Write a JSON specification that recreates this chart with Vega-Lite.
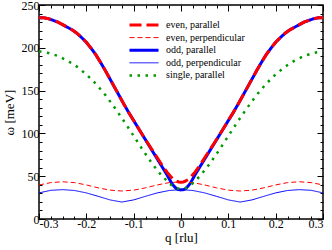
{
  "$schema": "https://vega.github.io/schema/vega-lite/v6.json",
  "width": 284,
  "height": 214,
  "autosize": {"type": "none"},
  "padding": {"left": 39, "top": 5, "right": 9, "bottom": 31},
  "config": {
    "view": {"stroke": "black", "strokeWidth": 1.5},
    "font": "Liberation Serif",
    "axis": {
      "domain": false,
      "grid": false,
      "labelFont": "Liberation Serif",
      "titleFont": "Liberation Serif",
      "labelFontSize": 12,
      "titleFontSize": 13,
      "titleFontWeight": "normal",
      "labelColor": "black",
      "titleColor": "black",
      "tickColor": "black",
      "tickWidth": 1
    },
    "legend": {"labelFont": "Liberation Serif"}
  },
  "data": {
    "values": [
      {"s": "odd, parallel", "q": -0.3, "w": 235},
      {"s": "odd, parallel", "q": -0.29, "w": 235},
      {"s": "odd, parallel", "q": -0.28, "w": 234},
      {"s": "odd, parallel", "q": -0.27, "w": 232},
      {"s": "odd, parallel", "q": -0.26, "w": 230},
      {"s": "odd, parallel", "q": -0.25, "w": 227},
      {"s": "odd, parallel", "q": -0.24, "w": 224},
      {"s": "odd, parallel", "q": -0.23, "w": 221},
      {"s": "odd, parallel", "q": -0.22, "w": 217},
      {"s": "odd, parallel", "q": -0.21, "w": 212},
      {"s": "odd, parallel", "q": -0.2, "w": 206.5},
      {"s": "odd, parallel", "q": -0.19, "w": 199.5},
      {"s": "odd, parallel", "q": -0.18, "w": 192},
      {"s": "odd, parallel", "q": -0.17, "w": 183},
      {"s": "odd, parallel", "q": -0.16, "w": 173.5},
      {"s": "odd, parallel", "q": -0.15, "w": 163.5},
      {"s": "odd, parallel", "q": -0.14, "w": 153.5},
      {"s": "odd, parallel", "q": -0.13, "w": 143.5},
      {"s": "odd, parallel", "q": -0.12, "w": 133.5},
      {"s": "odd, parallel", "q": -0.11, "w": 124},
      {"s": "odd, parallel", "q": -0.1, "w": 115},
      {"s": "odd, parallel", "q": -0.09, "w": 106},
      {"s": "odd, parallel", "q": -0.08, "w": 97},
      {"s": "odd, parallel", "q": -0.07, "w": 88},
      {"s": "odd, parallel", "q": -0.06, "w": 79},
      {"s": "odd, parallel", "q": -0.05, "w": 70},
      {"s": "odd, parallel", "q": -0.04, "w": 61},
      {"s": "odd, parallel", "q": -0.03, "w": 52},
      {"s": "odd, parallel", "q": -0.02, "w": 42},
      {"s": "odd, parallel", "q": -0.015, "w": 38.5},
      {"s": "odd, parallel", "q": -0.01, "w": 35.5},
      {"s": "odd, parallel", "q": -0.005, "w": 34.3},
      {"s": "odd, parallel", "q": 0, "w": 34},
      {"s": "odd, parallel", "q": 0.005, "w": 34.3},
      {"s": "odd, parallel", "q": 0.01, "w": 35.5},
      {"s": "odd, parallel", "q": 0.015, "w": 38.5},
      {"s": "odd, parallel", "q": 0.02, "w": 42},
      {"s": "odd, parallel", "q": 0.03, "w": 52},
      {"s": "odd, parallel", "q": 0.04, "w": 61},
      {"s": "odd, parallel", "q": 0.05, "w": 70},
      {"s": "odd, parallel", "q": 0.06, "w": 79},
      {"s": "odd, parallel", "q": 0.07, "w": 88},
      {"s": "odd, parallel", "q": 0.08, "w": 97},
      {"s": "odd, parallel", "q": 0.09, "w": 106},
      {"s": "odd, parallel", "q": 0.1, "w": 115},
      {"s": "odd, parallel", "q": 0.11, "w": 124},
      {"s": "odd, parallel", "q": 0.12, "w": 133.5},
      {"s": "odd, parallel", "q": 0.13, "w": 143.5},
      {"s": "odd, parallel", "q": 0.14, "w": 153.5},
      {"s": "odd, parallel", "q": 0.15, "w": 163.5},
      {"s": "odd, parallel", "q": 0.16, "w": 173.5},
      {"s": "odd, parallel", "q": 0.17, "w": 183},
      {"s": "odd, parallel", "q": 0.18, "w": 192},
      {"s": "odd, parallel", "q": 0.19, "w": 199.5},
      {"s": "odd, parallel", "q": 0.2, "w": 206.5},
      {"s": "odd, parallel", "q": 0.21, "w": 212},
      {"s": "odd, parallel", "q": 0.22, "w": 217},
      {"s": "odd, parallel", "q": 0.23, "w": 221},
      {"s": "odd, parallel", "q": 0.24, "w": 224},
      {"s": "odd, parallel", "q": 0.25, "w": 227},
      {"s": "odd, parallel", "q": 0.26, "w": 230},
      {"s": "odd, parallel", "q": 0.27, "w": 232},
      {"s": "odd, parallel", "q": 0.28, "w": 234},
      {"s": "odd, parallel", "q": 0.29, "w": 235},
      {"s": "odd, parallel", "q": 0.3, "w": 235},

      {"s": "odd, perpendicular", "q": -0.3, "w": 30.5},
      {"s": "odd, perpendicular", "q": -0.275, "w": 33.5},
      {"s": "odd, perpendicular", "q": -0.25, "w": 34.3},
      {"s": "odd, perpendicular", "q": -0.225, "w": 33.3},
      {"s": "odd, perpendicular", "q": -0.2, "w": 30.5},
      {"s": "odd, perpendicular", "q": -0.175, "w": 26.5},
      {"s": "odd, perpendicular", "q": -0.15, "w": 22.3},
      {"s": "odd, perpendicular", "q": -0.125, "w": 19.8},
      {"s": "odd, perpendicular", "q": -0.1, "w": 22.3},
      {"s": "odd, perpendicular", "q": -0.075, "w": 26.5},
      {"s": "odd, perpendicular", "q": -0.05, "w": 30.5},
      {"s": "odd, perpendicular", "q": -0.025, "w": 33.3},
      {"s": "odd, perpendicular", "q": 0, "w": 34.3},
      {"s": "odd, perpendicular", "q": 0.025, "w": 33.3},
      {"s": "odd, perpendicular", "q": 0.05, "w": 30.5},
      {"s": "odd, perpendicular", "q": 0.075, "w": 26.5},
      {"s": "odd, perpendicular", "q": 0.1, "w": 22.3},
      {"s": "odd, perpendicular", "q": 0.125, "w": 19.8},
      {"s": "odd, perpendicular", "q": 0.15, "w": 22.3},
      {"s": "odd, perpendicular", "q": 0.175, "w": 26.5},
      {"s": "odd, perpendicular", "q": 0.2, "w": 30.5},
      {"s": "odd, perpendicular", "q": 0.225, "w": 33.3},
      {"s": "odd, perpendicular", "q": 0.25, "w": 34.3},
      {"s": "odd, perpendicular", "q": 0.275, "w": 33.5},
      {"s": "odd, perpendicular", "q": 0.3, "w": 30.5},

      {"s": "even, perpendicular", "q": -0.3, "w": 39.8},
      {"s": "even, perpendicular", "q": -0.275, "w": 42.5},
      {"s": "even, perpendicular", "q": -0.25, "w": 43.5},
      {"s": "even, perpendicular", "q": -0.225, "w": 42.5},
      {"s": "even, perpendicular", "q": -0.2, "w": 39.8},
      {"s": "even, perpendicular", "q": -0.175, "w": 36.4},
      {"s": "even, perpendicular", "q": -0.15, "w": 33.7},
      {"s": "even, perpendicular", "q": -0.125, "w": 32.7},
      {"s": "even, perpendicular", "q": -0.1, "w": 33.7},
      {"s": "even, perpendicular", "q": -0.075, "w": 36.4},
      {"s": "even, perpendicular", "q": -0.05, "w": 39.8},
      {"s": "even, perpendicular", "q": -0.025, "w": 42.5},
      {"s": "even, perpendicular", "q": 0, "w": 43.5},
      {"s": "even, perpendicular", "q": 0.025, "w": 42.5},
      {"s": "even, perpendicular", "q": 0.05, "w": 39.8},
      {"s": "even, perpendicular", "q": 0.075, "w": 36.4},
      {"s": "even, perpendicular", "q": 0.1, "w": 33.7},
      {"s": "even, perpendicular", "q": 0.125, "w": 32.7},
      {"s": "even, perpendicular", "q": 0.15, "w": 33.7},
      {"s": "even, perpendicular", "q": 0.175, "w": 36.4},
      {"s": "even, perpendicular", "q": 0.2, "w": 39.8},
      {"s": "even, perpendicular", "q": 0.225, "w": 42.5},
      {"s": "even, perpendicular", "q": 0.25, "w": 43.5},
      {"s": "even, perpendicular", "q": 0.275, "w": 42.5},
      {"s": "even, perpendicular", "q": 0.3, "w": 39.8},

      {"s": "single, parallel", "q": -0.3, "w": 196},
      {"s": "single, parallel", "q": -0.28, "w": 194},
      {"s": "single, parallel", "q": -0.26, "w": 190.5},
      {"s": "single, parallel", "q": -0.24, "w": 185},
      {"s": "single, parallel", "q": -0.22, "w": 178},
      {"s": "single, parallel", "q": -0.2, "w": 169},
      {"s": "single, parallel", "q": -0.18, "w": 158},
      {"s": "single, parallel", "q": -0.16, "w": 145},
      {"s": "single, parallel", "q": -0.14, "w": 130},
      {"s": "single, parallel", "q": -0.12, "w": 114},
      {"s": "single, parallel", "q": -0.1, "w": 97},
      {"s": "single, parallel", "q": -0.08, "w": 80},
      {"s": "single, parallel", "q": -0.06, "w": 64},
      {"s": "single, parallel", "q": -0.04, "w": 50},
      {"s": "single, parallel", "q": -0.02, "w": 39.5},
      {"s": "single, parallel", "q": -0.01, "w": 36},
      {"s": "single, parallel", "q": 0, "w": 35},
      {"s": "single, parallel", "q": 0.01, "w": 36},
      {"s": "single, parallel", "q": 0.02, "w": 39.5},
      {"s": "single, parallel", "q": 0.04, "w": 50},
      {"s": "single, parallel", "q": 0.06, "w": 64},
      {"s": "single, parallel", "q": 0.08, "w": 80},
      {"s": "single, parallel", "q": 0.1, "w": 97},
      {"s": "single, parallel", "q": 0.12, "w": 114},
      {"s": "single, parallel", "q": 0.14, "w": 130},
      {"s": "single, parallel", "q": 0.16, "w": 145},
      {"s": "single, parallel", "q": 0.18, "w": 158},
      {"s": "single, parallel", "q": 0.2, "w": 169},
      {"s": "single, parallel", "q": 0.22, "w": 178},
      {"s": "single, parallel", "q": 0.24, "w": 185},
      {"s": "single, parallel", "q": 0.26, "w": 190.5},
      {"s": "single, parallel", "q": 0.28, "w": 194},
      {"s": "single, parallel", "q": 0.3, "w": 196},

      {"s": "even, parallel", "q": -0.3, "w": 235},
      {"s": "even, parallel", "q": -0.29, "w": 235},
      {"s": "even, parallel", "q": -0.28, "w": 234},
      {"s": "even, parallel", "q": -0.27, "w": 232},
      {"s": "even, parallel", "q": -0.26, "w": 230},
      {"s": "even, parallel", "q": -0.25, "w": 227},
      {"s": "even, parallel", "q": -0.24, "w": 224},
      {"s": "even, parallel", "q": -0.23, "w": 221},
      {"s": "even, parallel", "q": -0.22, "w": 217},
      {"s": "even, parallel", "q": -0.21, "w": 212},
      {"s": "even, parallel", "q": -0.2, "w": 206.5},
      {"s": "even, parallel", "q": -0.19, "w": 199.5},
      {"s": "even, parallel", "q": -0.18, "w": 192},
      {"s": "even, parallel", "q": -0.17, "w": 183},
      {"s": "even, parallel", "q": -0.16, "w": 173.5},
      {"s": "even, parallel", "q": -0.15, "w": 163.5},
      {"s": "even, parallel", "q": -0.14, "w": 153.5},
      {"s": "even, parallel", "q": -0.13, "w": 143.5},
      {"s": "even, parallel", "q": -0.12, "w": 133.5},
      {"s": "even, parallel", "q": -0.11, "w": 124},
      {"s": "even, parallel", "q": -0.1, "w": 115},
      {"s": "even, parallel", "q": -0.09, "w": 106},
      {"s": "even, parallel", "q": -0.08, "w": 97},
      {"s": "even, parallel", "q": -0.07, "w": 88.5},
      {"s": "even, parallel", "q": -0.06, "w": 80},
      {"s": "even, parallel", "q": -0.05, "w": 71.5},
      {"s": "even, parallel", "q": -0.04, "w": 63},
      {"s": "even, parallel", "q": -0.03, "w": 55},
      {"s": "even, parallel", "q": -0.02, "w": 48.5},
      {"s": "even, parallel", "q": -0.015, "w": 46},
      {"s": "even, parallel", "q": -0.01, "w": 44.5},
      {"s": "even, parallel", "q": -0.005, "w": 43.3},
      {"s": "even, parallel", "q": 0, "w": 43},
      {"s": "even, parallel", "q": 0.005, "w": 43.3},
      {"s": "even, parallel", "q": 0.01, "w": 44.5},
      {"s": "even, parallel", "q": 0.015, "w": 46},
      {"s": "even, parallel", "q": 0.02, "w": 48.5},
      {"s": "even, parallel", "q": 0.03, "w": 55},
      {"s": "even, parallel", "q": 0.04, "w": 63},
      {"s": "even, parallel", "q": 0.05, "w": 71.5},
      {"s": "even, parallel", "q": 0.06, "w": 80},
      {"s": "even, parallel", "q": 0.07, "w": 88.5},
      {"s": "even, parallel", "q": 0.08, "w": 97},
      {"s": "even, parallel", "q": 0.09, "w": 106},
      {"s": "even, parallel", "q": 0.1, "w": 115},
      {"s": "even, parallel", "q": 0.11, "w": 124},
      {"s": "even, parallel", "q": 0.12, "w": 133.5},
      {"s": "even, parallel", "q": 0.13, "w": 143.5},
      {"s": "even, parallel", "q": 0.14, "w": 153.5},
      {"s": "even, parallel", "q": 0.15, "w": 163.5},
      {"s": "even, parallel", "q": 0.16, "w": 173.5},
      {"s": "even, parallel", "q": 0.17, "w": 183},
      {"s": "even, parallel", "q": 0.18, "w": 192},
      {"s": "even, parallel", "q": 0.19, "w": 199.5},
      {"s": "even, parallel", "q": 0.2, "w": 206.5},
      {"s": "even, parallel", "q": 0.21, "w": 212},
      {"s": "even, parallel", "q": 0.22, "w": 217},
      {"s": "even, parallel", "q": 0.23, "w": 221},
      {"s": "even, parallel", "q": 0.24, "w": 224},
      {"s": "even, parallel", "q": 0.25, "w": 227},
      {"s": "even, parallel", "q": 0.26, "w": 230},
      {"s": "even, parallel", "q": 0.27, "w": 232},
      {"s": "even, parallel", "q": 0.28, "w": 234},
      {"s": "even, parallel", "q": 0.29, "w": 235},
      {"s": "even, parallel", "q": 0.3, "w": 235}
    ]
  },
  "layer": [
    {
      "mark": {"type": "line", "strokeCap": "butt", "clip": true},
      "encoding": {
        "x": {
          "field": "q", "type": "quantitative",
          "scale": {"domain": [-0.3, 0.3], "nice": false, "zero": false},
          "axis": {
            "orient": "bottom",
            "title": "q [rlu]",
            "labelFont": "Liberation Serif",
            "titleFont": "Liberation Serif",
            "values": [-0.3, -0.275, -0.25, -0.225, -0.2, -0.175, -0.15, -0.125, -0.1, -0.075, -0.05, -0.025, 0, 0.025, 0.05, 0.075, 0.1, 0.125, 0.15, 0.175, 0.2, 0.225, 0.25, 0.275, 0.3],
            "labelExpr": "abs(datum.value*10-round(datum.value*10))<0.001 ? (abs(datum.value)<0.001 ? '0' : (datum.value<0 ? '-' : '') + format(abs(datum.value), '.1f')) : ''",
            "tickSize": {"condition": {"test": "abs(datum.value*10-round(datum.value*10))<0.001", "value": -6}, "value": -3},
            "labelPadding": 5,
            "titlePadding": 2
          }
        },
        "y": {
          "field": "w", "type": "quantitative",
          "scale": {"domain": [0, 250], "nice": false},
          "axis": {
            "orient": "left",
            "title": "ω  [meV]",
            "labelFont": "Liberation Serif",
            "titleFont": "Liberation Serif",
            "values": [0, 10, 20, 30, 40, 50, 60, 70, 80, 90, 100, 110, 120, 130, 140, 150, 160, 170, 180, 190, 200, 210, 220, 230, 240, 250],
            "labelExpr": "datum.value % 50 == 0 ? datum.label : ''",
            "tickSize": {"condition": {"test": "datum.value % 50 == 0", "value": -6}, "value": -3},
            "labelPadding": 6,
            "titlePadding": 5
          }
        },
        "color": {
          "field": "s", "type": "nominal",
          "scale": {
            "domain": ["even, parallel", "even, perpendicular", "odd, parallel", "odd, perpendicular", "single, parallel"],
            "range": ["#ff0000", "#ff0000", "#0000ff", "#0000ff", "#009a00"]
          },
          "legend": {
            "orient": "none", "legendX": 89, "legendY": 14, "title": null,
            "labelFont": "Liberation Serif", "labelFontSize": 10, "labelColor": "black",
            "symbolType": "stroke", "symbolSize": 841, "labelOffset": 6,
            "clipHeight": 12, "rowPadding": 0.6
          }
        },
        "strokeDash": {
          "field": "s", "type": "nominal",
          "scale": {
            "domain": ["even, parallel", "even, perpendicular", "odd, parallel", "odd, perpendicular", "single, parallel"],
            "range": [[12, 5], [5, 3], [1, 0], [1, 0], [2.5, 5.5]]
          },
          "legend": null
        },
        "strokeWidth": {
          "field": "s", "type": "nominal",
          "scale": {
            "type": "ordinal",
            "domain": ["even, parallel", "even, perpendicular", "odd, parallel", "odd, perpendicular", "single, parallel"],
            "range": [3, 1, 3, 1, 2.5]
          },
          "legend": null
        }
      }
    },
    {
      "mark": {"type": "point", "opacity": 0},
      "encoding": {
        "x": {
          "field": "q", "type": "quantitative",
          "axis": {
            "orient": "top", "title": null, "labels": false,
            "values": [-0.3, -0.275, -0.25, -0.225, -0.2, -0.175, -0.15, -0.125, -0.1, -0.075, -0.05, -0.025, 0, 0.025, 0.05, 0.075, 0.1, 0.125, 0.15, 0.175, 0.2, 0.225, 0.25, 0.275, 0.3],
            "tickSize": {"condition": {"test": "abs(datum.value*10-round(datum.value*10))<0.001", "value": -6}, "value": -3}
          }
        },
        "y": {
          "field": "w", "type": "quantitative",
          "axis": {
            "orient": "right", "title": null, "labels": false,
            "values": [0, 10, 20, 30, 40, 50, 60, 70, 80, 90, 100, 110, 120, 130, 140, 150, 160, 170, 180, 190, 200, 210, 220, 230, 240, 250],
            "tickSize": {"condition": {"test": "datum.value % 50 == 0", "value": -6}, "value": -3}
          }
        }
      }
    }
  ],
  "resolve": {"axis": {"x": "independent", "y": "independent"}}
}
